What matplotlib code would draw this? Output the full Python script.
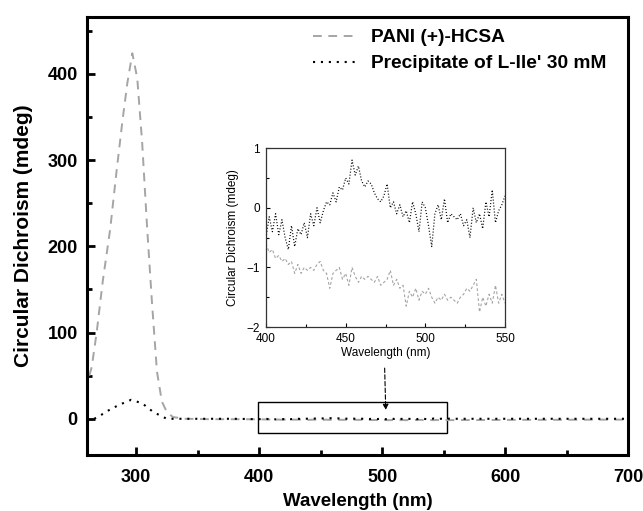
import matplotlib

matplotlib.use("Agg")
import matplotlib.pyplot as plt
from matplotlib.patches import Rectangle

plt.rcParams["font.family"] = ["Liberation Sans", "DejaVu Sans"]

# main-scale curves (nm, mdeg)
pani_head_x = [262, 264, 268, 273, 279, 284, 289, 293, 297, 301, 305, 309, 313, 317, 321, 325, 330, 340, 360, 380]
pani_head_y = [50, 60, 100, 160, 220, 285, 346, 390, 424, 395, 320, 222, 134, 55, 20, 8, 2, 0, -0.5, -0.5]
prec_head_x = [266, 270, 278, 286, 296, 305, 313, 318, 325, 340, 360, 380]
prec_head_y = [0, 3, 10, 16, 22, 18, 9, 5, 0, 0, 0, 0]

# zoomed region 400-550 nm
inset_x = list(range(400, 551, 2))
pani_inset = [
    -0.6, -0.75, -0.7, -0.85, -0.8, -0.9, -0.85, -0.95, -0.9, -1.1,
    -0.95, -1.1, -1.0, -1.05, -1.0, -1.05, -0.95, -0.9, -1.05, -1.1,
    -1.35, -1.1, -1.05, -1.0, -1.2, -1.1, -1.3, -1.0, -1.15, -1.25,
    -1.15, -1.2, -1.15, -1.2, -1.25, -1.15, -1.3, -1.25, -1.2, -1.05,
    -1.3, -1.2, -1.35, -1.3, -1.65, -1.4, -1.5, -1.35, -1.55, -1.4,
    -1.45, -1.35, -1.5, -1.6, -1.5, -1.55, -1.45, -1.55, -1.5, -1.55,
    -1.6, -1.5, -1.45, -1.35, -1.4, -1.3, -1.2, -1.75, -1.5, -1.65,
    -1.45, -1.6, -1.3, -1.6, -1.45, -1.6,
]
prec_inset = [
    -0.5, -0.15, -0.4, -0.1, -0.45, -0.2, -0.5, -0.7, -0.3, -0.65,
    -0.35, -0.45, -0.25, -0.5, -0.1, -0.3, 0.0, -0.25, -0.05, 0.1,
    0.05, 0.25, 0.1, 0.35, 0.3, 0.5, 0.4, 0.8, 0.55, 0.7,
    0.45, 0.35, 0.45, 0.4, 0.25, 0.15, 0.1, 0.2, 0.4, 0.0,
    0.1, -0.1, 0.05, -0.15, -0.05, -0.25, 0.1, -0.1, -0.4, 0.1,
    0.0, -0.3, -0.65, -0.1, 0.05, -0.2, 0.15, -0.25, -0.1, -0.15,
    -0.2, -0.1, -0.3, -0.2, -0.5, 0.0, -0.25, -0.1, -0.35, 0.1,
    -0.15, 0.3, -0.25, -0.05, 0.05, 0.2,
]

tail_x = [560, 580, 600, 620, 640, 660, 680, 700]
pani_tail = [-1.5, -1.4, -1.3, -1.2, -1.2, -1.1, -1.0, -1.0]
prec_tail = [0, 0, 0, 0, 0, 0, 0, 0]

gray = "#a5a5a5"

fig = plt.figure(figsize=(6.43, 5.11), dpi=100)
ax = fig.add_axes([0.135, 0.1096, 0.842, 0.857])

ax.plot(pani_head_x + inset_x + tail_x, pani_head_y + pani_inset + pani_tail,
        color=gray, lw=1.4, dashes=(4.5, 3.4), label="PANI (+)-HCSA")
ax.plot(prec_head_x + inset_x + tail_x, prec_head_y + prec_inset + prec_tail,
        color="black", lw=1.5, dashes=(1, 2.8), label="Precipitate of L-Ile' 30 mM")

ax.set_xlim(260, 700)
ax.set_ylim(-42, 466)
ax.set_xticks([300, 400, 500, 600, 700])
ax.set_xticks([350, 450, 550, 650], minor=True)
ax.set_yticks([0, 100, 200, 300, 400])
ax.set_yticks([50, 150, 250, 350, 450], minor=True)
ax.tick_params(which="both", direction="in", width=2, labelsize=13, pad=6.5)
ax.tick_params(axis="x", which="both", pad=10)
ax.tick_params(which="major", length=6)
ax.tick_params(which="minor", length=3.5)
for lab in ax.get_xticklabels() + ax.get_yticklabels():
    lab.set_fontweight("bold")
for s in ax.spines.values():
    s.set_linewidth(2.2)

ax.set_xlabel("Wavelength (nm)", fontsize=13.5, fontweight="bold", labelpad=5)
ax.set_ylabel("Circular Dichroism (mdeg)", fontsize=15, fontweight="bold", labelpad=10.5)

ax.legend(loc="upper left", bbox_to_anchor=(313 / 643, 1 - 29 / 511),
          bbox_transform=fig.transFigure, frameon=False,
          borderaxespad=0, borderpad=0,
          prop={"weight": "bold", "size": 13.8}, handlelength=2.3,
          handletextpad=0.75, labelspacing=0.45)

# box marking the zoomed region and arrow to the inset
ax.add_patch(Rectangle((399, -17), 154, 37, fill=False, lw=1.0, ec="black"))
ax.annotate("", xy=(503, 7), xytext=(502, 62),
            arrowprops=dict(arrowstyle="-|>", lw=0.8, ls=(0, (4, 2)),
                            color="black", mutation_scale=8))

ins = fig.add_axes([0.4137, 0.360, 0.3717, 0.350])
ins.plot(inset_x, pani_inset, color=gray, lw=0.8, dashes=(2.5, 2))
ins.plot(inset_x, prec_inset, color="black", lw=0.9, dashes=(0.8, 1.6))
ins.set_xlim(400, 550)
ins.set_ylim(-2, 1)
ins.set_xticks([400, 450, 500, 550])
ins.set_xticks([425, 475, 525], minor=True)
ins.set_yticks([-2, -1, 0, 1])
ins.set_yticks([-1.5, -0.5, 0.5], minor=True)
ins.tick_params(which="both", direction="in", labelsize=8.5, width=0.8, pad=4.5)
ins.tick_params(which="major", length=3)
ins.tick_params(which="minor", length=2)
for s in ins.spines.values():
    s.set_linewidth(0.9)
    s.set_color("#333333")
ins.set_xlabel("Wavelength (nm)", fontsize=8.5, labelpad=1.5)
ins.set_ylabel("Circular Dichroism (mdeg)", fontsize=8.5, labelpad=5)

fig.savefig("out.png", dpi=100)
